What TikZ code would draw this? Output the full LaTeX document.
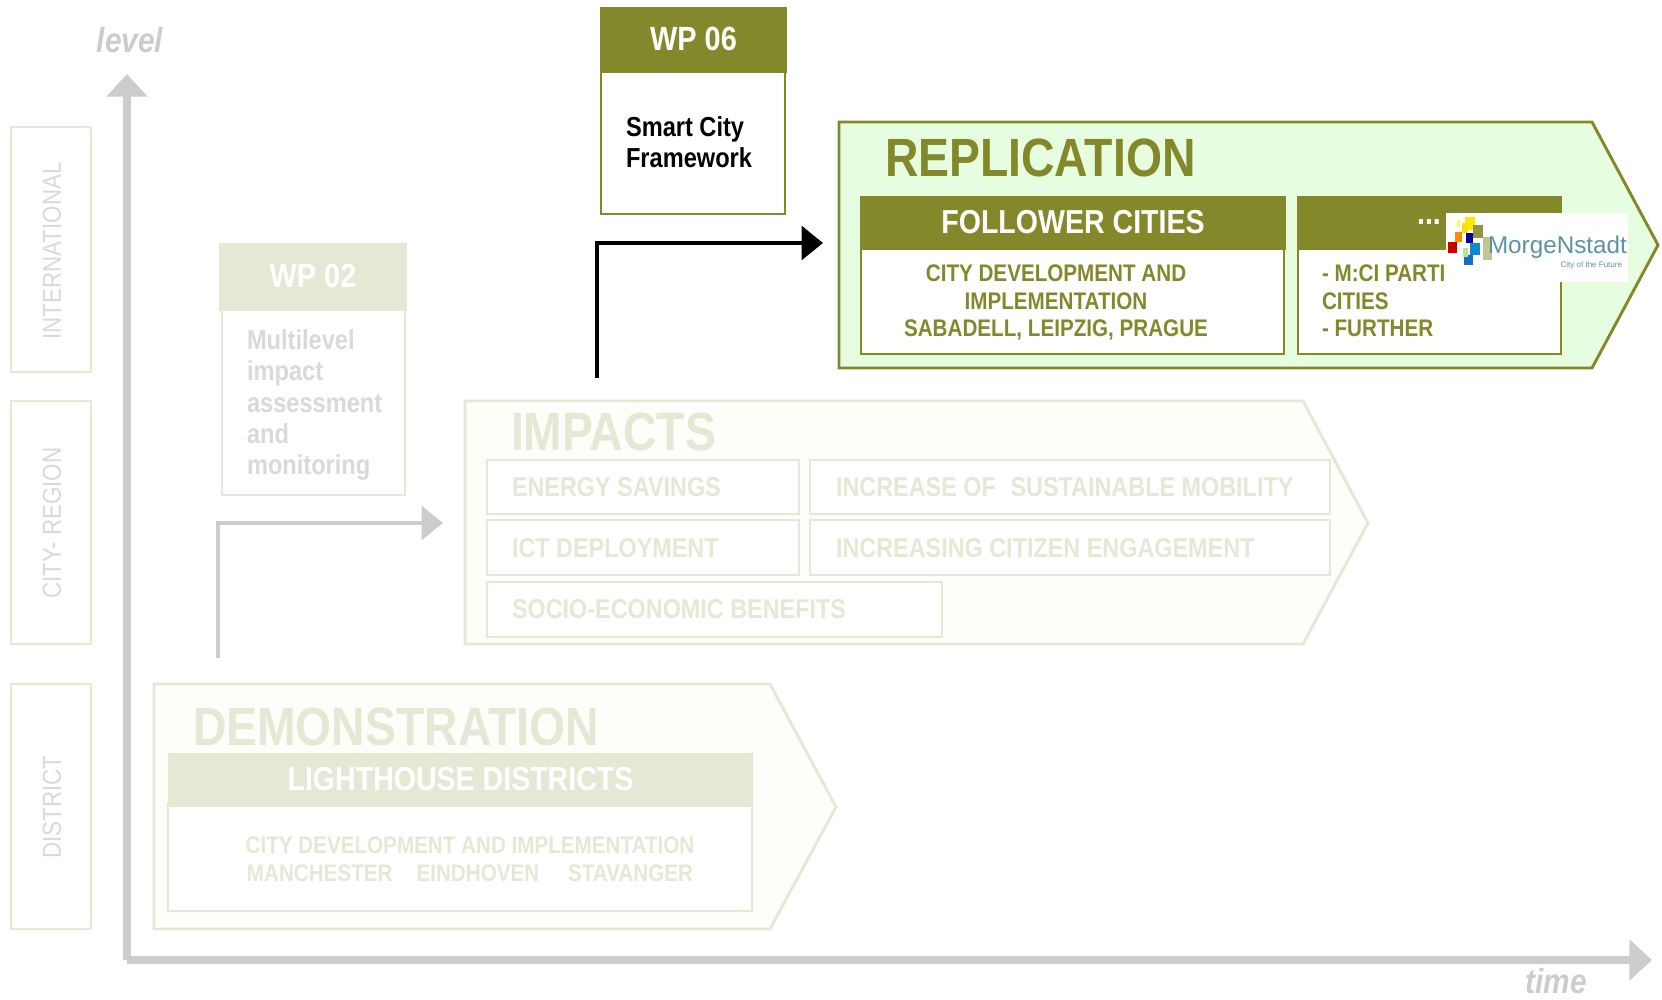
\documentclass[tikz,border=0pt]{standalone}
\usepackage{fontspec}
\setmainfont{Liberation Sans}
\newfontfamily\nar[FakeStretch=0.86]{Liberation Sans}
\usetikzlibrary{arrows.meta}
\definecolor{olv}{HTML}{83892B}
\definecolor{fadeo}{HTML}{E6E8D6}
\definecolor{fadeb}{HTML}{FBFEF9}
\definecolor{repfill}{HTML}{E6FDDF}
\definecolor{axisg}{HTML}{CCCCCC}
\definecolor{fadet}{HTML}{D9D9D9}
\definecolor{logot}{HTML}{5F93A3}
\newcommand{\bx}[6]{%
  \pgfmathsetmacro{\cxa}{(#3+#5)/2}\pgfmathsetmacro{\cya}{(#4+#6)/2}%
  \pgfmathsetmacro{\wa}{(#5-#3)*0.75}\pgfmathsetmacro{\ha}{(#6-#4)*0.75}%
  \node[#2,minimum width=\wa pt,minimum height=\ha pt] (#1) at (\cxa,\cya) {};}
\tikzset{
  x=0.75pt,y=-0.75pt,
  every node/.style={inner sep=0pt,outer sep=0pt},
  lvlbox/.style={draw=fadeo,line width=2.2pt,fill=white},
  lvltext/.style={font=\nar\fontsize{19.5}{19.5}\selectfont,text=fadet,rotate=90},
  solidbody/.style={draw=olv,line width=2.2pt,fill=white},
  solidhead/.style={fill=olv},
  fadebody/.style={draw=fadeo,line width=2.2pt,fill=white},
  fadehead/.style={fill=fadeo},
  fadearrow/.style={draw=fadeo,line width=2.2pt,fill=fadeb,line join=miter},
  headw/.style={font=\nar\bfseries\fontsize{24.9}{24.9}\selectfont,text=white,yshift=1pt},
  bodyo/.style={font=\nar\bfseries\fontsize{18}{20.7}\selectfont,text=olv,align=center},
  bodyf/.style={font=\nar\bfseries\fontsize{18}{20.7}\selectfont,text=fadeo,align=center},
  imp/.style={font=\nar\bfseries\fontsize{20.4}{20.4}\selectfont,text=fadeo,anchor=west},
  wpt/.style={font=\bfseries\nar\fontsize{20.6}{23.5}\selectfont,align=left,anchor=north west},
  axisline/.style={draw=axisg,line width=6pt,-{Triangle[length=17pt,width=30pt]}},
  axislabel/.style={font=\itshape\bfseries\nar\fontsize{26}{26}\selectfont,text=axisg},
  conblack/.style={draw=black,line width=3.4pt,-{Triangle[length=16pt,width=25pt]}},
  congrey/.style={draw=axisg,line width=3.4pt,-{Triangle[length=16pt,width=25pt]}},
}
\begin{document}
\begin{tikzpicture}
\useasboundingbox (0,0) rectangle (1662,999);
% level boxes
\bx{bi}{lvlbox}{11}{127}{91}{372}
\bx{bc}{lvlbox}{11}{401}{91}{644}
\bx{bd}{lvlbox}{11}{684}{91}{929}
\node[lvltext] (ti) at (52,251) {INTERNATIONAL};
\node[lvltext] (tc) at (52,523) {CITY- REGION};
\node[lvltext] (td) at (52,807) {DISTRICT};
% axes
\coordinate (orig) at (127,960);
\coordinate (ytip) at (127,74);
\coordinate (xtip) at (1652,960);
\draw[axisline] (orig) -- (ytip);
\draw[axisline] (orig) -- (xtip);
\node[axislabel] (lv) at (130,40) {level};
\node[axislabel] (tm) at (1556,981) {time};
% WP 06
\bx{w6b}{solidbody}{601}{70}{785}{214}
\bx{w6h}{solidhead}{600}{7}{787}{73}
\node[headw,font=\bfseries\nar\fontsize{25.2}{25.2}\selectfont] (w6t) at (w6h.center) {WP 06};
\node[wpt,text=black] (w6x) at (626,116.5) {Smart City\\Framework};
% Replication
\draw[draw=olv,line width=2.2pt,fill=repfill,line join=miter]
  (839,122) -- (1592,122) -- (1658,245) -- (1592,368) -- (839,368) -- cycle;
\node[anchor=west,font=\nar\bfseries\fontsize{40.4}{40.4}\selectfont,text=olv] (rep) at (885,158) {REPLICATION};
\bx{f1b}{solidbody}{861}{246}{1284}{354}
\bx{f1h}{solidhead}{860}{196}{1286}{250}
\node[headw] (f1t) at (f1h.center) {FOLLOWER CITIES};
\node[bodyo] (f1x) at (1056,302.5) {CITY DEVELOPMENT AND\\IMPLEMENTATION\\SABADELL, LEIPZIG, PRAGUE};
\bx{f2b}{solidbody}{1298}{246}{1561}{354}
\bx{f2h}{solidhead}{1297}{196}{1562}{250}
\node[headw] (f2t) at (1429,223) {...};
\node[bodyo,align=left,anchor=north west] (f2x) at (1322,265) {- M:CI PARTI\\CITIES\\- FURTHER};
% logo
\fill[white] (1446,213) rectangle (1628,282);
\begin{scope}[shift={(1260,180)},x=0.25pt,y=-0.25pt]
\fill[red!80!black] (565,185) rectangle (590,220);
\fill[orange!90!yellow] (585,155) rectangle (605,185);
\fill[yellow!60!white] (590,120) rectangle (600,140);
\fill[yellow!90!orange] (615,110) rectangle (645,150);
\fill[yellow!80!orange] (605,130) rectangle (625,160);
\fill[olv!90!white] (640,135) rectangle (670,175);
\fill[blue!60!black] (618,160) rectangle (640,190);
\fill[cyan!70!blue] (630,190) rectangle (660,225);
\fill[cyan!50!blue] (612,225) rectangle (640,255);
\fill[green!40!olv!40!white] (610,205) rectangle (625,230);
\fill[olv!50!white] (668,170) rectangle (695,240);
\end{scope}
\node[anchor=west,font=\fontsize{18.2}{18.2}\selectfont,text=logot] (lg) at (1488,247) {MorgeNstadt};
\node[anchor=east,font=\fontsize{6}{6}\selectfont,text=logot] (lg2) at (1622,265) {City of the Future};
% connectors
\coordinate (c1s) at (597,378);
\coordinate (c1m) at (597,243);
\coordinate (c1e) at (823,243);
\draw[conblack] (c1s) -- (c1m) -- (c1e);
\coordinate (c2s) at (218,658);
\coordinate (c2m) at (218,523);
\coordinate (c2e) at (443,523);
\draw[congrey] (c2s) -- (c2m) -- (c2e);
% WP 02
\bx{w2b}{fadebody}{222}{305}{405}{495}
\bx{w2h}{fadehead}{219}{243}{407}{311}
\node[headw,font=\bfseries\nar\fontsize{25.2}{25.2}\selectfont] (w2t) at (w2h.center) {WP 02};
\node[wpt,text=fadet] (w2x) at (247,329.5) {Multilevel\\impact\\assessment\\and\\monitoring};
% Impacts
\draw[fadearrow] (465,401) -- (1303,401) -- (1368,523) -- (1303,644) -- (465,644) -- cycle;
\node[anchor=west,font=\nar\bfseries\fontsize{40.4}{40.4}\selectfont,text=fadeo] (impt) at (511,432) {IMPACTS};
\bx{i1}{fadebody}{487}{460}{799}{514}
\bx{i2}{fadebody}{810}{460}{1330}{514}
\bx{i3}{fadebody}{487}{520}{799}{575}
\bx{i4}{fadebody}{810}{520}{1330}{575}
\bx{i5}{fadebody}{487}{582}{942}{637}
\node[imp] (i1t) at (512,487) {ENERGY SAVINGS};
\node[imp] (i2t) at (836,487) {INCREASE OF\hspace{0.3em} SUSTAINABLE MOBILITY};
\node[imp] (i3t) at (512,548) {ICT DEPLOYMENT};
\node[imp] (i4t) at (836,548) {INCREASING CITIZEN ENGAGEMENT};
\node[imp] (i5t) at (512,609) {SOCIO-ECONOMIC BENEFITS};
% Demonstration
\draw[fadearrow] (154,684) -- (770,684) -- (836,807) -- (770,929) -- (154,929) -- cycle;
\node[anchor=west,font=\nar\bfseries\fontsize{40.4}{40.4}\selectfont,text=fadeo] (dem) at (193,727) {DEMONSTRATION};
\bx{d1b}{fadebody}{168}{803}{752}{911}
\bx{d1h}{fadehead}{168}{753}{753}{807}
\node[headw] (d1t) at (d1h.center) {LIGHTHOUSE DISTRICTS};
\node[bodyf] (d1x) at (470,859.5) {CITY DEVELOPMENT AND IMPLEMENTATION\\MANCHESTER\hspace{1em}EINDHOVEN\hspace{1.2em}STAVANGER};
\end{tikzpicture}
\end{document}
